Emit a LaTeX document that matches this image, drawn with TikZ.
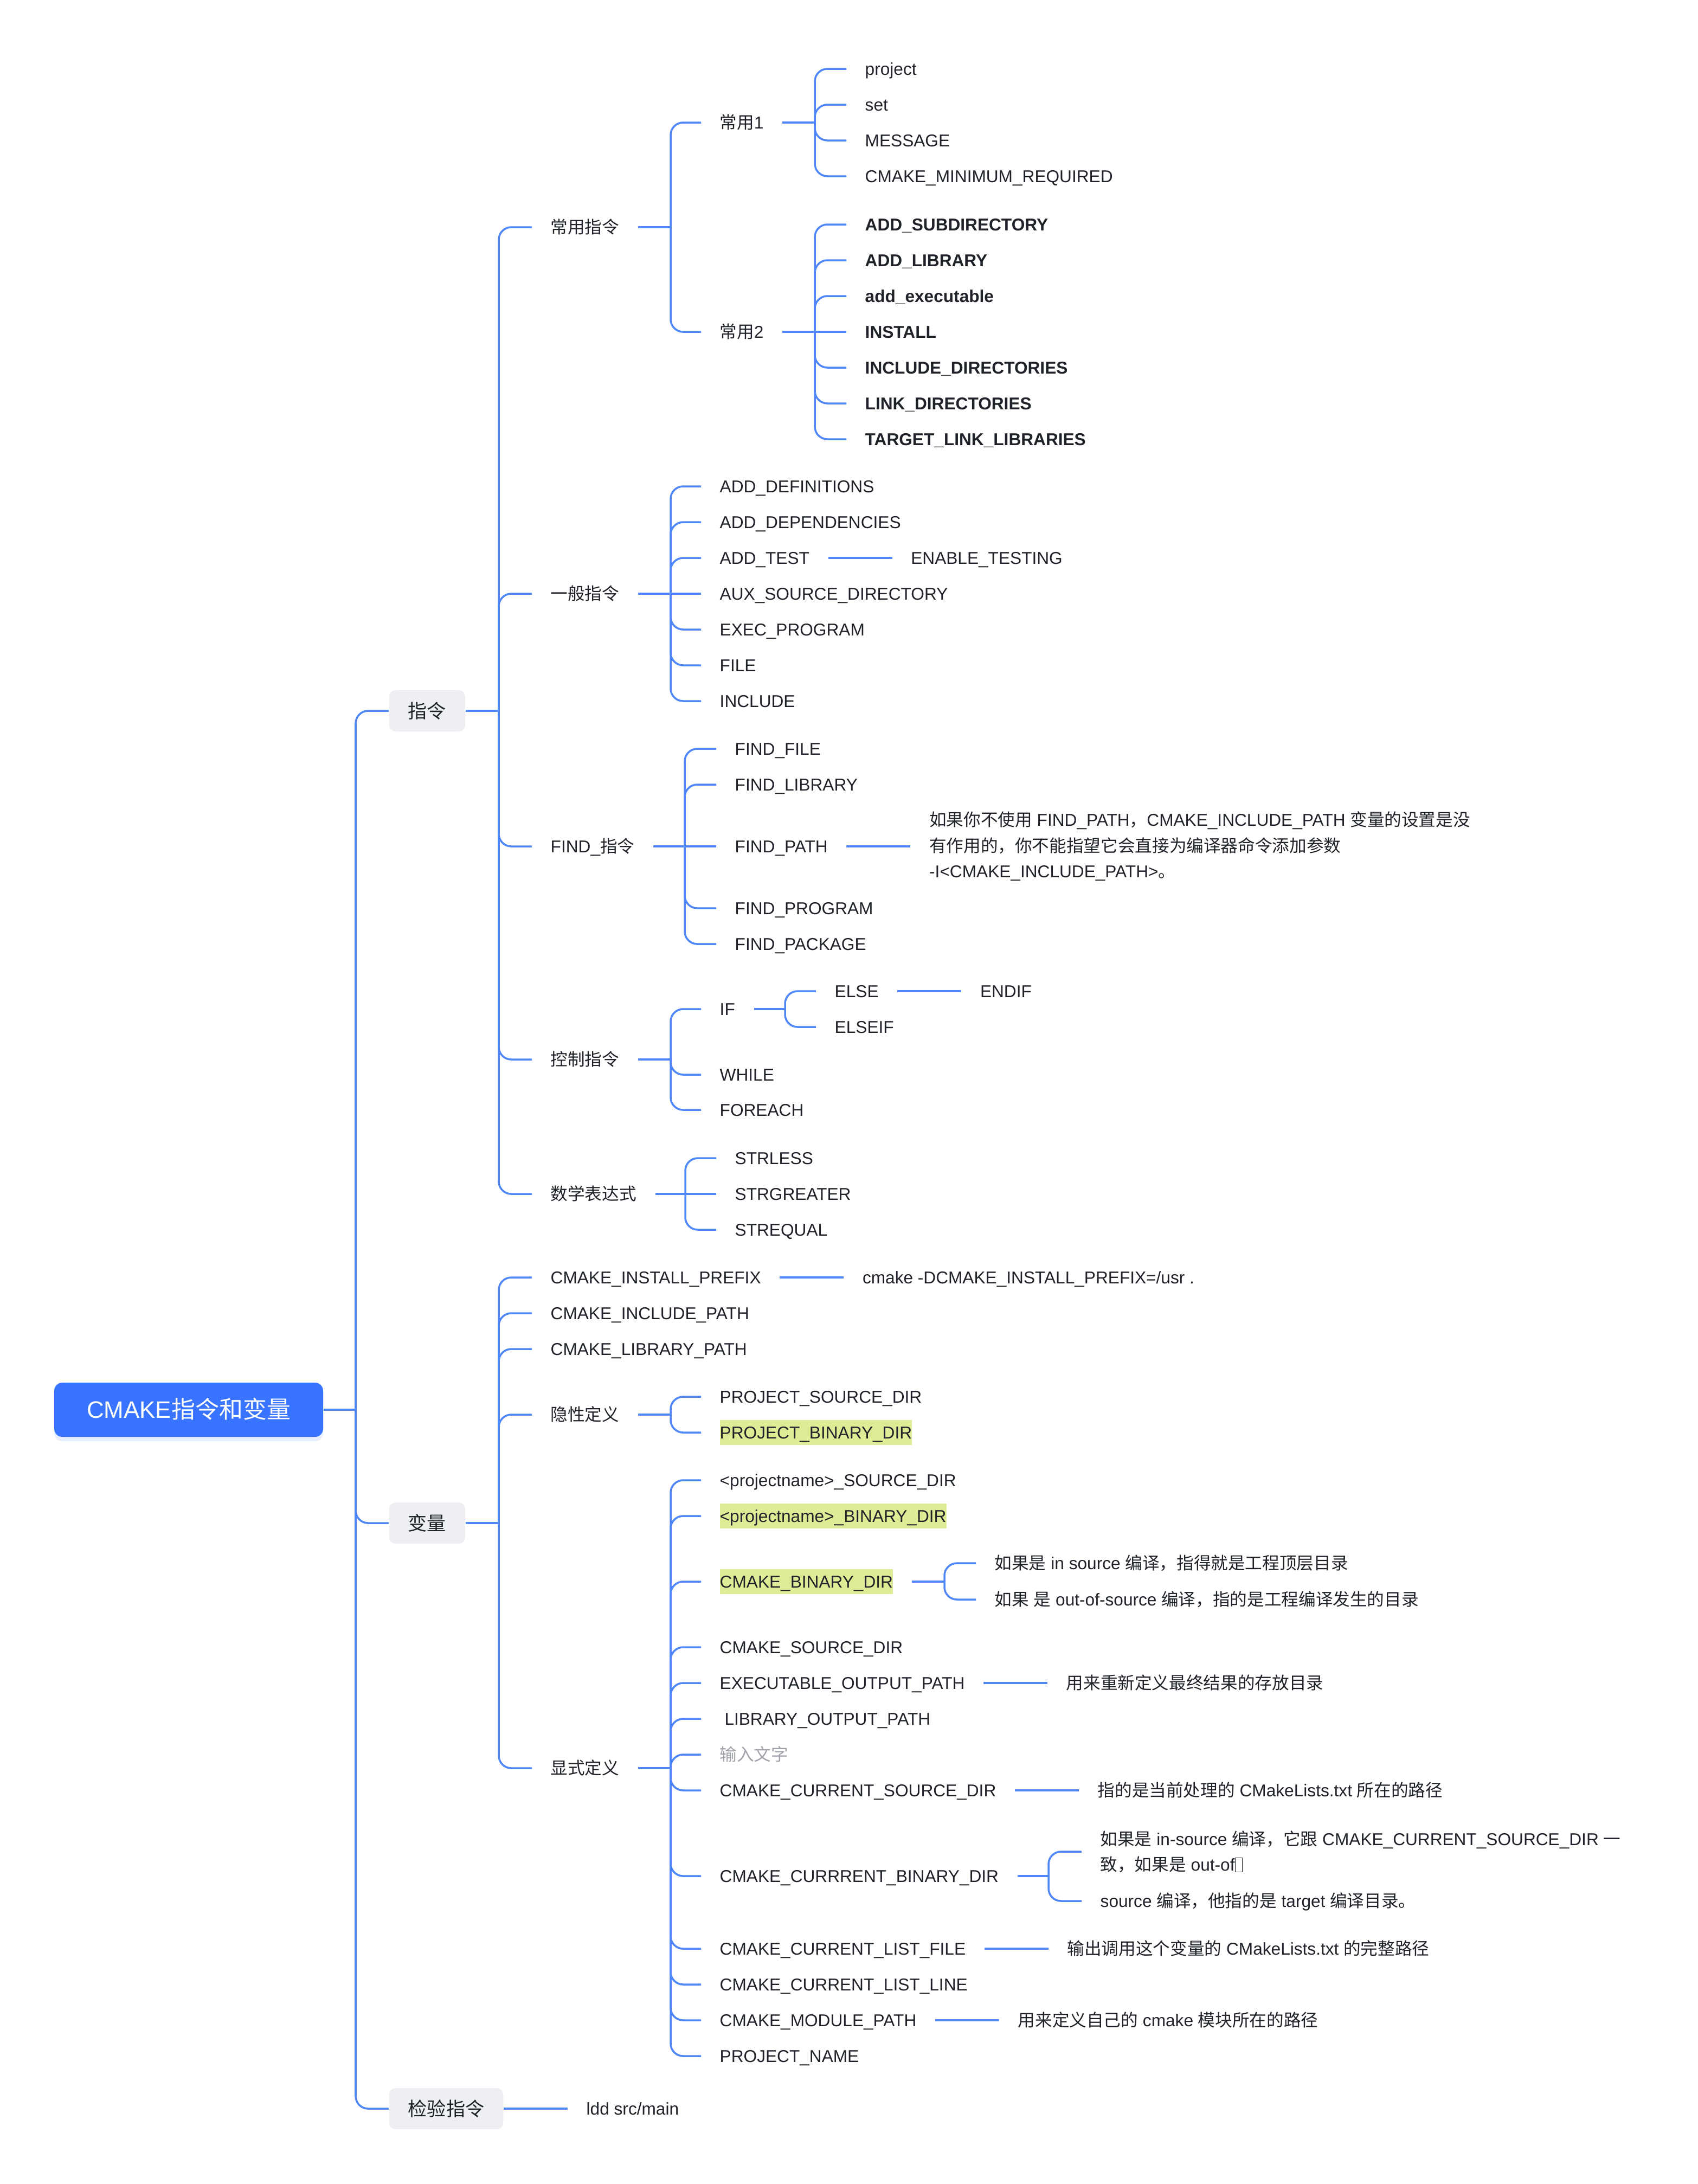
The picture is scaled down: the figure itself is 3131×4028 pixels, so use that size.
\documentclass[tikz,border=0pt]{standalone}
\usepackage{fontspec}
\setmainfont{Liberation Sans}
\newfontfamily\cjkfont{Noto Sans CJK SC}
\newfontfamily\latfont{Liberation Sans}
\usepackage{xcolor}
\usetikzlibrary{positioning, shadows}

% Chinese characters are set in the CJK font
\newXeTeXintercharclass\cjkclass
\newcount\cjkcode
\newcommand\setcjkrange[2]{%
  \cjkcode=#1
  \loop
    \XeTeXcharclass\cjkcode=\cjkclass
    \ifnum\cjkcode<#2 \advance\cjkcode by 1
  \repeat}
\setcjkrange{"3000}{"303F}
\setcjkrange{"4E00}{"9FFF}
\setcjkrange{"FF00}{"FFEF}
\XeTeXinterchartoks 0 \cjkclass = {\cjkfont}
\XeTeXinterchartoks 4095 \cjkclass = {\cjkfont}
\XeTeXinterchartoks \cjkclass 0 = {\latfont}
\XeTeXinterchartoks \cjkclass 4095 = {\latfont}
\XeTeXinterchartokenstate=1

\definecolor{rootblue}{RGB}{56,116,255}
\definecolor{linkblue}{RGB}{80,135,248}
\definecolor{topicgray}{RGB}{238,239,242}
\definecolor{hlyellow}{RGB}{223,236,150}
\definecolor{inkdark}{RGB}{31,35,41}
\definecolor{hintgray}{RGB}{160,163,170}

\newcommand\hl[1]{{\setlength\fboxsep{0pt}\colorbox{hlyellow}{\rule[-1.2mm]{0pt}{4.6mm}#1}}}
\newcommand\tofu{\raisebox{-0.1ex}{\setlength\fboxsep{0pt}\setlength\fboxrule{0.3pt}\fbox{\rule{0pt}{0.8em}\hspace{0.4em}}}}

\begin{document}
\begin{tikzpicture}[x=0.1mm, y=-0.1mm, node distance=1.18cm,
  root/.style={fill=rootblue, rounded corners=1.5mm, text=white, minimum width=4.96cm,
    minimum height=1cm, font=\fontsize{12.5}{15}\selectfont, text height=9pt, text depth=0pt,
    drop shadow={fill=rootblue!40, opacity=0.3, shadow xshift=0pt, shadow yshift=-0.8mm}},
  topic/.style={fill=topicgray, rounded corners=1.2mm, text=inkdark, anchor=west,
    inner xsep=3.5mm, inner ysep=0pt, minimum height=7.6mm,
    font=\fontsize{10}{12}\selectfont, text height=7.4pt, text depth=0pt},
  txt/.style={anchor=west, inner xsep=3.4mm, inner ysep=1pt, text=inkdark,
    font=\fontsize{9}{13.5}\selectfont},
  item/.style={txt, text height=6.4pt, text depth=0pt},
  bolditem/.style={item, font=\fontsize{9}{13.5}\selectfont\bfseries},
  note/.style={txt, align=left},
  link/.style={draw=linkblue, line width=1pt, rounded corners=2.3mm}]
  \path[use as bounding box, fill=white] (0,0) rectangle (3131,4028);

  % root and first level
  \node[root] (root) at (348,2600) {CMAKE指令和变量};
  \coordinate (j0) at (656,2600);
  \node[topic] (zl) at (717,1311) {指令};
  \node[topic] (bl) at (717,2809) {变量};
  \node[topic] (jy) at (717,3889) {检验指令};
  \node[item, right=of jy] (ldd) {ldd src/main};

  % 指令
  \coordinate (j1) at (920,1311);
  \node[item] (cy) at (981,419) {常用指令};
  \node[item] (yb) at (981,1095) {一般指令};
  \node[item] (fd) at (981,1561) {FIND\_指令};
  \node[item] (kz) at (981,1954) {控制指令};
  \node[item] (sx) at (981,2202) {数学表达式};

  \coordinate (j2) at (1237,419);
  \node[item] (cy1) at (1293,226) {常用1};
  \node[item] (cy2) at (1293,612) {常用2};
  \coordinate (j3) at (1503,226);
  \node[item] (pj) at (1561,127) {project};
  \node[item] (st) at (1561,193) {set};
  \node[item] (ms) at (1561,259) {MESSAGE};
  \node[item] (cmr) at (1561,325) {CMAKE\_MINIMUM\_REQUIRED};
  \coordinate (j4) at (1503,612);
  \node[bolditem] (asd) at (1561,414) {ADD\_SUBDIRECTORY};
  \node[bolditem] (alb) at (1561,480) {ADD\_LIBRARY};
  \node[bolditem] (aex) at (1561,546) {add\_executable};
  \node[bolditem] (ins) at (1561,612) {INSTALL};
  \node[bolditem] (idr) at (1561,678) {INCLUDE\_DIRECTORIES};
  \node[bolditem] (ldr) at (1561,744) {LINK\_DIRECTORIES};
  \node[bolditem] (tll) at (1561,810) {TARGET\_LINK\_LIBRARIES};

  \coordinate (j5) at (1237,1095);
  \node[item] (adf) at (1293,897) {ADD\_DEFINITIONS};
  \node[item] (adp) at (1293,963) {ADD\_DEPENDENCIES};
  \node[item] (adt) at (1293,1029) {ADD\_TEST};
  \node[item, right=of adt] (ent) {ENABLE\_TESTING};
  \node[item] (aux) at (1293,1095) {AUX\_SOURCE\_DIRECTORY};
  \node[item] (exp) at (1293,1161) {EXEC\_PROGRAM};
  \node[item] (fil) at (1293,1227) {FILE};
  \node[item] (inc) at (1293,1293) {INCLUDE};

  \coordinate (j6) at (1263,1561);
  \node[item] (ffi) at (1321,1381) {FIND\_FILE};
  \node[item] (fli) at (1321,1447) {FIND\_LIBRARY};
  \node[item] (fpa) at (1321,1561) {FIND\_PATH};
  \node[note, right=of fpa] (fpn) {如果你不使用 FIND\_PATH，CMAKE\_INCLUDE\_PATH 变量的设置是没\\
    有作用的，你不能指望它会直接为编译器命令添加参数\\-I<CMAKE\_INCLUDE\_PATH>。};
  \node[item] (fpr) at (1321,1675) {FIND\_PROGRAM};
  \node[item] (fpk) at (1321,1741) {FIND\_PACKAGE};

  \coordinate (j7) at (1237,1954);
  \node[item] (iff) at (1293,1861) {IF};
  \coordinate (j8) at (1448,1861);
  \node[item] (els) at (1505,1828) {ELSE};
  \node[item, right=of els] (eif) {ENDIF};
  \node[item] (elf) at (1505,1894) {ELSEIF};
  \node[item] (whl) at (1293,1982) {WHILE};
  \node[item] (fea) at (1293,2047) {FOREACH};

  \coordinate (j9) at (1264,2202);
  \node[item] (sle) at (1321,2136) {STRLESS};
  \node[item] (sgr) at (1321,2202) {STRGREATER};
  \node[item] (seq) at (1321,2268) {STREQUAL};

  % 变量
  \coordinate (j10) at (920,2809);
  \node[item] (ipf) at (981,2356) {CMAKE\_INSTALL\_PREFIX};
  \node[item, right=of ipf] (ipn) {cmake -DCMAKE\_INSTALL\_PREFIX=/usr .};
  \node[item] (icp) at (981,2422) {CMAKE\_INCLUDE\_PATH};
  \node[item] (lbp) at (981,2488) {CMAKE\_LIBRARY\_PATH};
  \node[item] (yx) at (981,2609) {隐性定义};
  \node[item] (xs) at (981,3261) {显式定义};

  \coordinate (j11) at (1237,2609);
  \node[item] (psd) at (1293,2576) {PROJECT\_SOURCE\_DIR};
  \node[item] (pbd) at (1293,2642) {\hl{PROJECT\_BINARY\_DIR}};

  \coordinate (j12) at (1237,3261);
  \node[item] (nsd) at (1293,2730) {<projectname>\_SOURCE\_DIR};
  \node[item] (nbd) at (1293,2796) {\hl{<projectname>\_BINARY\_DIR}};
  \node[item] (cbd) at (1293,2917) {\hl{CMAKE\_BINARY\_DIR}};
  \coordinate (j13) at (1742,2917);
  \node[item] (cbd1) at (1800,2883) {如果是 in source 编译，指得就是工程顶层目录};
  \node[item] (cbd2) at (1800,2950) {如果 是 out-of-source 编译，指的是工程编译发生的目录};
  \node[item] (csd) at (1293,3038) {CMAKE\_SOURCE\_DIR};
  \node[item] (eop) at (1293,3104) {EXECUTABLE\_OUTPUT\_PATH};
  \node[item, right=of eop] (eon) {用来重新定义最终结果的存放目录};
  \node[item] (lop) at (1293,3170) {\ LIBRARY\_OUTPUT\_PATH};
  \node[item, text=hintgray] (hnt) at (1293,3236) {输入文字};
  \node[item] (ccs) at (1293,3302) {CMAKE\_CURRENT\_SOURCE\_DIR};
  \node[item, right=of ccs] (ccsn) {指的是当前处理的 CMakeLists.txt 所在的路径};
  \node[item] (ccb) at (1293,3460) {CMAKE\_CURRRENT\_BINARY\_DIR};
  \coordinate (j14) at (1934,3460);
  \node[note] (ccb1) at (1995,3415) {如果是 in-source 编译，它跟 CMAKE\_CURRENT\_SOURCE\_DIR 一\\致，如果是 out-of\tofu};
  \node[item] (ccb2) at (1995,3506) {source 编译，他指的是 target 编译目录。};
  \node[item] (clf) at (1293,3594) {CMAKE\_CURRENT\_LIST\_FILE};
  \node[item, right=of clf] (clfn) {输出调用这个变量的 CMakeLists.txt 的完整路径};
  \node[item] (cll) at (1293,3660) {CMAKE\_CURRENT\_LIST\_LINE};
  \node[item] (cmp) at (1293,3726) {CMAKE\_MODULE\_PATH};
  \node[item, right=of cmp] (cmpn) {用来定义自己的 cmake 模块所在的路径};
  \node[item] (pnm) at (1293,3792) {PROJECT\_NAME};

  % connectors
  \draw[link] (root.east) -- (j0);
  \draw[link] (j0) |- (zl.west);
  \draw[link] (j0) |- (bl.west);
  \draw[link] (j0) |- (jy.west);
  \draw[link] (jy.east) -- (ldd.west);

  \draw[link] (zl.east) -- (j1);
  \draw[link] (j1) |- (cy.west);
  \draw[link] (j1) |- (yb.west);
  \draw[link] (j1) |- (fd.west);
  \draw[link] (j1) |- (kz.west);
  \draw[link] (j1) |- (sx.west);

  \draw[link] (cy.east) -- (j2);
  \draw[link] (j2) |- (cy1.west);
  \draw[link] (j2) |- (cy2.west);
  \draw[link] (cy1.east) -- (j3);
  \draw[link] (j3) |- (pj.west);
  \draw[link] (j3) |- (st.west);
  \draw[link] (j3) |- (ms.west);
  \draw[link] (j3) |- (cmr.west);
  \draw[link] (cy2.east) -- (ins.west);
  \draw[link] (j4) |- (asd.west);
  \draw[link] (j4) |- (alb.west);
  \draw[link] (j4) |- (aex.west);
  \draw[link] (j4) |- (idr.west);
  \draw[link] (j4) |- (ldr.west);
  \draw[link] (j4) |- (tll.west);

  \draw[link] (yb.east) -- (aux.west);
  \draw[link] (j5) |- (adf.west);
  \draw[link] (j5) |- (adp.west);
  \draw[link] (j5) |- (adt.west);
  \draw[link] (j5) |- (exp.west);
  \draw[link] (j5) |- (fil.west);
  \draw[link] (j5) |- (inc.west);
  \draw[link] (adt.east) -- (ent.west);

  \draw[link] (fd.east) -- (fpa.west);
  \draw[link] (j6) |- (ffi.west);
  \draw[link] (j6) |- (fli.west);
  \draw[link] (j6) |- (fpr.west);
  \draw[link] (j6) |- (fpk.west);
  \draw[link] (fpa.east) -- (fpn.west);

  \draw[link] (kz.east) -- (j7);
  \draw[link] (j7) |- (iff.west);
  \draw[link] (j7) |- (whl.west);
  \draw[link] (j7) |- (fea.west);
  \draw[link] (iff.east) -- (j8);
  \draw[link] (j8) |- (els.west);
  \draw[link] (j8) |- (elf.west);
  \draw[link] (els.east) -- (eif.west);

  \draw[link] (sx.east) -- (sgr.west);
  \draw[link] (j9) |- (sle.west);
  \draw[link] (j9) |- (seq.west);

  \draw[link] (bl.east) -- (j10);
  \draw[link] (j10) |- (ipf.west);
  \draw[link] (j10) |- (icp.west);
  \draw[link] (j10) |- (lbp.west);
  \draw[link] (j10) |- (yx.west);
  \draw[link] (j10) |- (xs.west);
  \draw[link] (ipf.east) -- (ipn.west);

  \draw[link] (yx.east) -- (j11);
  \draw[link] (j11) |- (psd.west);
  \draw[link] (j11) |- (pbd.west);

  \draw[link] (xs.east) -- (j12);
  \draw[link] (j12) |- (nsd.west);
  \draw[link] (j12) |- (nbd.west);
  \draw[link] (j12) |- (cbd.west);
  \draw[link] (j12) |- (csd.west);
  \draw[link] (j12) |- (eop.west);
  \draw[link] (j12) |- (lop.west);
  \draw[link] (j12) |- (hnt.west);
  \draw[link] (j12) |- (ccs.west);
  \draw[link] (j12) |- (ccb.west);
  \draw[link] (j12) |- (clf.west);
  \draw[link] (j12) |- (cll.west);
  \draw[link] (j12) |- (cmp.west);
  \draw[link] (j12) |- (pnm.west);
  \draw[link] (cbd.east) -- (j13);
  \draw[link] (j13) |- (cbd1.west);
  \draw[link] (j13) |- (cbd2.west);
  \draw[link] (eop.east) -- (eon.west);
  \draw[link] (ccs.east) -- (ccsn.west);
  \draw[link] (ccb.east) -- (j14);
  \draw[link] (j14) |- (ccb1.west);
  \draw[link] (j14) |- (ccb2.west);
  \draw[link] (clf.east) -- (clfn.west);
  \draw[link] (cmp.east) -- (cmpn.west);
\end{tikzpicture}
\end{document}
